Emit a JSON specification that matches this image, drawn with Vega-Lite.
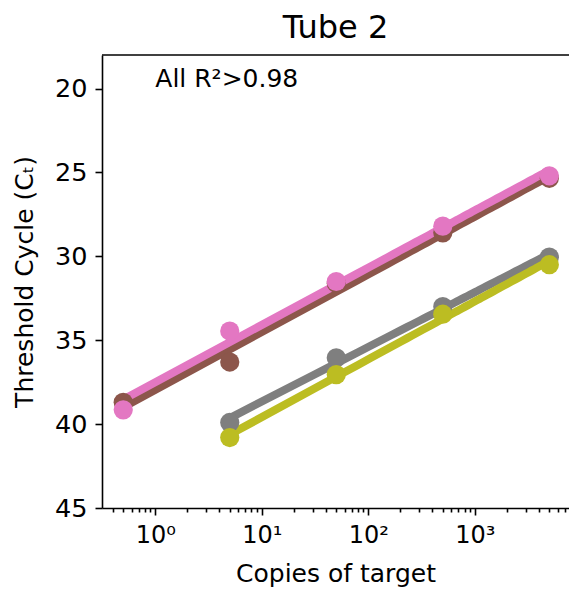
{
  "$schema": "https://vega.github.io/schema/vega-lite/v6.json",
  "autosize": {"type": "none"},
  "padding": {"left": 102, "top": 55, "right": 0, "bottom": 81},
  "width": 467,
  "height": 453,
  "title": {"text": "Tube 2", "fontSize": 32, "fontWeight": "normal", "font": "DejaVu Sans", "color": "black", "offset": 9},
  "config": {
    "view": {"stroke": null},
    "font": "DejaVu Sans",
    "axis": {
      "domainColor": "black", "domainWidth": 1.6, "tickColor": "black", "tickWidth": 1.6,
      "labelColor": "black", "titleColor": "black", "labelFont": "DejaVu Sans", "titleFont": "DejaVu Sans",
      "grid": false, "labelFontSize": 24, "titleFontSize": 25, "titleFontWeight": "normal"
    }
  },
  "data": {
    "values": [
      {"series": "A", "copies": 0.5, "ct": 38.7},
      {"series": "A", "copies": 5, "ct": 36.3},
      {"series": "A", "copies": 50, "ct": 31.6},
      {"series": "A", "copies": 500, "ct": 28.6},
      {"series": "A", "copies": 5000, "ct": 25.35},
      {"series": "B", "copies": 0.5, "ct": 39.15},
      {"series": "B", "copies": 5, "ct": 34.45},
      {"series": "B", "copies": 50, "ct": 31.5},
      {"series": "B", "copies": 500, "ct": 28.2},
      {"series": "B", "copies": 5000, "ct": 25.2},
      {"series": "C", "copies": 5, "ct": 39.9},
      {"series": "C", "copies": 50, "ct": 36.05},
      {"series": "C", "copies": 500, "ct": 33.0},
      {"series": "C", "copies": 5000, "ct": 30.05},
      {"series": "D", "copies": 5, "ct": 40.8},
      {"series": "D", "copies": 50, "ct": 37.05},
      {"series": "D", "copies": 500, "ct": 33.45},
      {"series": "D", "copies": 5000, "ct": 30.5}
    ]
  },
  "layer": [
    {
      "transform": [{"regression": "ct", "on": "copies", "groupby": ["series"], "method": "log"}],
      "mark": {"type": "line", "strokeWidth": 8, "strokeCap": "butt"},
      "encoding": {
        "x": {"field": "copies", "type": "quantitative",
              "scale": {"type": "log", "domain": [0.316, 7650], "nice": false, "zero": false},
              "axis": {"orient": "bottom", "values": [1, 10, 100, 1000], "tickSize": 7, "labelPadding": 8,
                       "labelExpr": "'10' + (datum.value == 1 ? '⁰' : datum.value == 10 ? '¹' : datum.value == 100 ? '²' : '³')",
                       "title": "Copies of target", "titlePadding": 14}},
        "y": {"field": "ct", "type": "quantitative",
              "scale": {"domain": [18, 45], "reverse": true, "nice": false, "zero": false},
              "axis": {"values": [20, 25, 30, 35, 40, 45], "tickSize": 7, "labelPadding": 8, "labelFontSize": 25.5,
                       "title": "Threshold Cycle (Cₜ)", "titlePadding": 17}},
        "color": {"field": "series", "type": "nominal",
                  "scale": {"domain": ["A", "B", "C", "D"], "range": ["#8c564b", "#e377c2", "#7f7f7f", "#bcbd22"]},
                  "legend": null}
      }
    },
    {
      "mark": {"type": "point", "filled": true, "opacity": 1, "size": 370},
      "encoding": {
        "x": {"field": "copies", "type": "quantitative",
              "axis": {"orient": "bottom", "values": [0.4, 0.5, 0.6, 0.7, 0.8, 0.9, 2, 3, 4, 5, 6, 7, 8, 9, 20, 30, 40, 50, 60, 70, 80, 90, 200, 300, 400, 500, 600, 700, 800, 900, 2000, 3000, 4000, 5000, 6000, 7000],
                       "tickSize": 4, "labels": false, "domain": false, "title": null}},
        "y": {"field": "ct", "type": "quantitative"},
        "color": {"field": "series", "type": "nominal", "legend": null}
      }
    },
    {
      "data": {"values": [{"label": "All R²>0.98"}]},
      "layer": [
        {
          "mark": {"type": "rule", "color": "black", "strokeWidth": 1.6},
          "encoding": {"y": {"datum": 18}}
        },
        {
          "mark": {"type": "text", "align": "left", "baseline": "middle", "fontSize": 25, "font": "DejaVu Sans", "color": "black"},
          "encoding": {"x": {"datum": 1, "axis": null}, "y": {"datum": 19.45}, "text": {"field": "label"}}
        }
      ]
    }
  ],
  "resolve": {"axis": {"x": "independent"}}
}
